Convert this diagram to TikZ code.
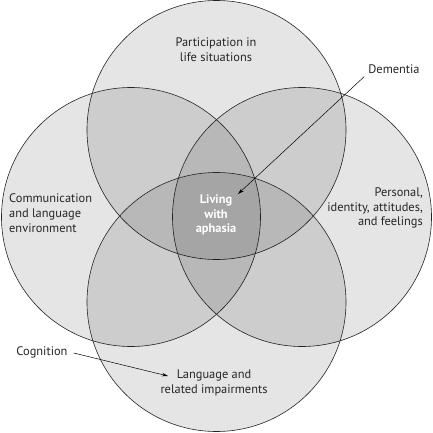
\documentclass[tikz,border=0pt]{standalone}
\usepackage{fontspec}
\setmainfont{PT Sans}
\usetikzlibrary{arrows.meta}

\begin{document}
\begin{tikzpicture}[x=1pt, y=-1pt, >={Stealth[length=6pt, width=3.5pt]},
    ring/.style={draw=black!85, line width=0.6pt, fill=black, fill opacity=0.1},
    lbl/.style={font=\fontsize{12.4}{14.8}\selectfont, text=black!85, inner sep=0pt}]
    \useasboundingbox (0,0) rectangle (432,433);
    \fill[white] (0,0) rectangle (432,433);
    % the four domains
    \draw[ring] (216.5,130) circle (129.5pt);
    \draw[ring] (131,217) circle (129.5pt);
    \draw[ring] (302,217) circle (129.5pt);
    \draw[ring] (216.5,302) circle (129.5pt);

    \node[lbl, align=center] (participation) at (216,50) {Participation in\\life situations};
    \node[lbl, align=left, anchor=west] (communication) at (9,213) {Communication\\and language\\environment};
    \node[lbl, align=right, anchor=east] (personal) at (423,208) {Personal,\\identity, attitudes,\\and feelings};
    \node[lbl, align=center] (language) at (214,383) {Language and\\related impairments};
    \node[lbl, align=center, text=white, font=\fontsize{12.4}{14.8}\selectfont\bfseries] (living) at (216,215) {Living\\with\\aphasia};

    \node[lbl] (dementia) at (394,69) {Dementia};
    \node[lbl] (cognition) at (42,352) {Cognition};
    \coordinate (dem_end) at (238,194);
    \coordinate (cog_end) at (168,376);

    \draw[->, line width=0.5pt] (dementia.south west) ++(-4,3) -- (dem_end);
    \draw[->, line width=0.5pt] (cognition.east) ++(6,1) -- (cog_end);
\end{tikzpicture}
\end{document}
